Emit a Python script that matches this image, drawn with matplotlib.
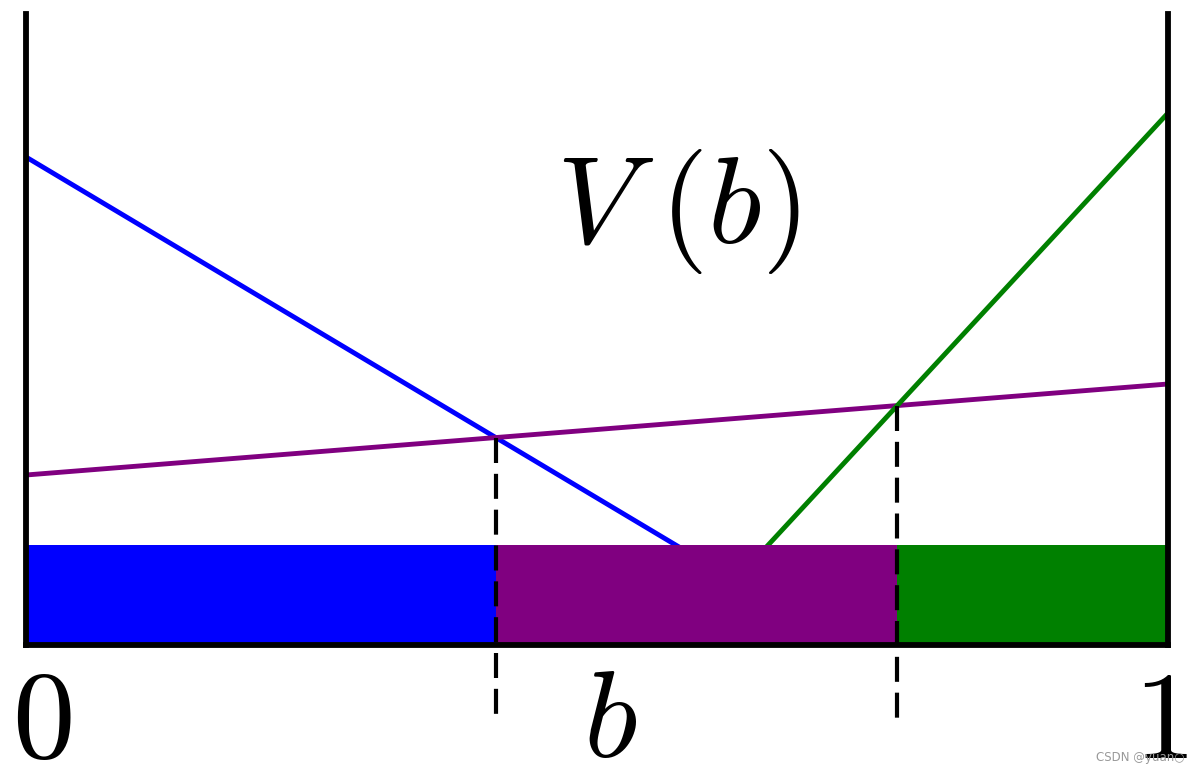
import numpy as np
import matplotlib.pyplot as plt

plt.rcParams['mathtext.fontset'] = 'cm'

# value of each line at b=0 and at b=1
blue_ends = [4.88, -1.94]
purple_ends = [1.70, 2.61]
green_ends = [-7.02, 5.32]
bar_height = 1.0


def crossing(p, q):
    # b where two straight lines meet
    sp = p[1] - p[0]
    sq = q[1] - q[0]
    return (q[0] - p[0]) / (sp - sq)


def value(p, b):
    return p[0] + (p[1] - p[0]) * b


b1 = crossing(blue_ends, purple_ends)
b2 = crossing(purple_ends, green_ends)

fig = plt.figure(figsize=(12.01, 7.73), dpi=100)
ax = fig.add_axes([26 / 1201, 128 / 773, 1142 / 1201, 631 / 773])
ax.set_xlim(0, 1)
ax.set_ylim(0, 6.31)

xs = np.array([0, 1])
ax.plot(xs, blue_ends, color='blue', lw=3.5, zorder=1)
ax.plot(xs, purple_ends, color='purple', lw=3.5, zorder=1)
ax.plot(xs, green_ends, color='green', lw=3.5, zorder=1)

starts = [0, b1, b2]
widths = [b1, b2 - b1, 1 - b2]
colors = ['blue', 'purple', 'green']
ax.bar(starts, [bar_height] * 3, width=widths, align='edge', color=colors, zorder=2)

for b in [b1, b2]:
    ax.plot([b, b], [value(purple_ends, b), -0.75], color='black', lw=3,
            dashes=(6, 2.6), clip_on=False, zorder=3)

for s in ['left', 'right', 'bottom']:
    ax.spines[s].set_linewidth(4.2)
    ax.spines[s].set_zorder(4)
ax.spines['top'].set_visible(False)
ax.set_xticks([])
ax.set_yticks([])

ax.text(0.571, 4.33, r'$V\;(b)$', fontsize=90, ha='center', va='center')
ax.text(0.014, -0.78, r'$0$', fontsize=90, ha='center', va='center')
ax.text(0.511, -0.78, r'$b$', fontsize=90, ha='center', va='center')
ax.text(0.993, -0.78, r'$1$', fontsize=90, ha='center', va='center')
fig.text(1185 / 1201, 1 - 757 / 773, 'CSDN @yuan○', fontsize=8.5, color='#999999',
         ha='right', va='center')

fig.savefig('out.png', dpi=100)
